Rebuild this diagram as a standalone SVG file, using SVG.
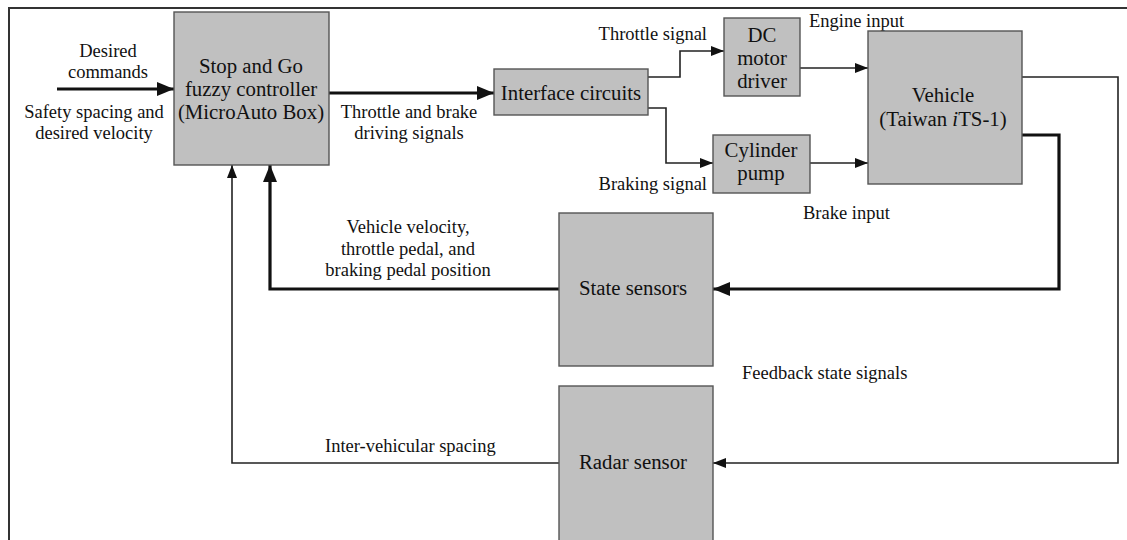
<svg xmlns="http://www.w3.org/2000/svg" width="1127" height="540" viewBox="0 0 1127 540">
<style>
text{font-family:"Liberation Serif","Times New Roman",serif;fill:#111}
.box{fill:#c0c0c0;stroke:#555;stroke-width:1.4}
.nt{font-size:20.8px;text-anchor:middle}
.lb{font-size:18.5px}
.c{text-anchor:middle}
.e{text-anchor:end}
.thin{fill:none;stroke:#222;stroke-width:1.6}
.thick{fill:none;stroke:#111;stroke-width:3.2}
</style>
<defs>
<marker id="aThin" markerUnits="userSpaceOnUse" markerWidth="14" markerHeight="12" refX="13" refY="5" orient="auto">
<path d="M0,0 L13,5 L0,10 z" fill="#111"/>
</marker>
<marker id="aThick" markerUnits="userSpaceOnUse" markerWidth="18" markerHeight="16" refX="17" refY="7" orient="auto">
<path d="M0,0 L17,7 L0,14 z" fill="#111"/>
</marker>
</defs>
<rect width="1127" height="540" fill="#fff"/>
<path d="M9,540 V8 H1127" fill="none" stroke="#333" stroke-width="2"/>

<g id="connectors">
<path class="thick" d="M57,89 H174" marker-end="url(#aThick)"/>
<path class="thick" d="M329,93 H494" marker-end="url(#aThick)"/>
<path class="thin" d="M648,77 H680 V51 H724" marker-end="url(#aThin)"/>
<path class="thin" d="M648,108 H666 V163 H713" marker-end="url(#aThin)"/>
<path class="thin" d="M800,68 H868" marker-end="url(#aThin)"/>
<path class="thin" d="M810,163 H868" marker-end="url(#aThin)"/>
<path class="thick" d="M1022,135 H1059 V289 H713" marker-end="url(#aThick)"/>
<path class="thin" d="M1022,77 H1118 V463 H713" marker-end="url(#aThin)"/>
<path class="thick" d="M559,289 H270 V165" marker-end="url(#aThick)"/>
<path class="thin" d="M559,463 H232 V165" marker-end="url(#aThin)"/>
</g>

<g id="labels">
<text class="lb c" x="108" y="57">Desired</text>
<text class="lb c" x="108" y="78">commands</text>
<text class="lb c" x="94" y="118">Safety spacing and</text>
<text class="lb c" x="94" y="139">desired velocity</text>
<text class="lb c" x="409" y="118">Throttle and brake</text>
<text class="lb c" x="409" y="139">driving signals</text>
<text class="lb e" x="707" y="40">Throttle signal</text>
<text class="lb e" x="707" y="190">Braking signal</text>
<text class="lb" x="809" y="27">Engine input</text>
<text class="lb" x="803" y="219">Brake input</text>
<text class="lb c" x="408" y="233">Vehicle velocity,</text>
<text class="lb c" x="408" y="255">throttle pedal, and</text>
<text class="lb c" x="408" y="276">braking pedal position</text>
<text class="lb" x="742" y="379">Feedback state signals</text>
<text class="lb" x="325" y="452">Inter-vehicular spacing</text>
</g>

<g id="controller">
<rect class="box" x="174" y="12" width="155" height="153"/>
<text class="nt" x="251" y="73">Stop and Go</text>
<text class="nt" x="251" y="96">fuzzy controller</text>
<text class="nt" x="251" y="119">(MicroAuto Box)</text>
</g>
<g id="interface">
<rect class="box" x="494" y="69" width="154" height="46"/>
<text class="nt" x="571" y="100">Interface circuits</text>
</g>
<g id="dcmotor">
<rect class="box" x="724" y="18" width="76" height="78"/>
<text class="nt" x="762" y="42">DC</text>
<text class="nt" x="762" y="65">motor</text>
<text class="nt" x="762" y="88">driver</text>
</g>
<g id="cylinder">
<rect class="box" x="713" y="135" width="97" height="58"/>
<text class="nt" x="761" y="157">Cylinder</text>
<text class="nt" x="761" y="180">pump</text>
</g>
<g id="vehicle">
<rect class="box" x="868" y="31" width="154" height="153"/>
<text class="nt" x="943" y="102">Vehicle</text>
<text class="nt" x="943" y="126">(Taiwan <tspan font-style="italic">i</tspan>TS-1)</text>
</g>
<g id="state">
<rect class="box" x="559" y="213" width="154" height="153"/>
<text class="nt" x="633" y="295">State sensors</text>
</g>
<g id="radar">
<rect class="box" x="559" y="386" width="154" height="160"/>
<text class="nt" x="633" y="469">Radar sensor</text>
</g>
</svg>
